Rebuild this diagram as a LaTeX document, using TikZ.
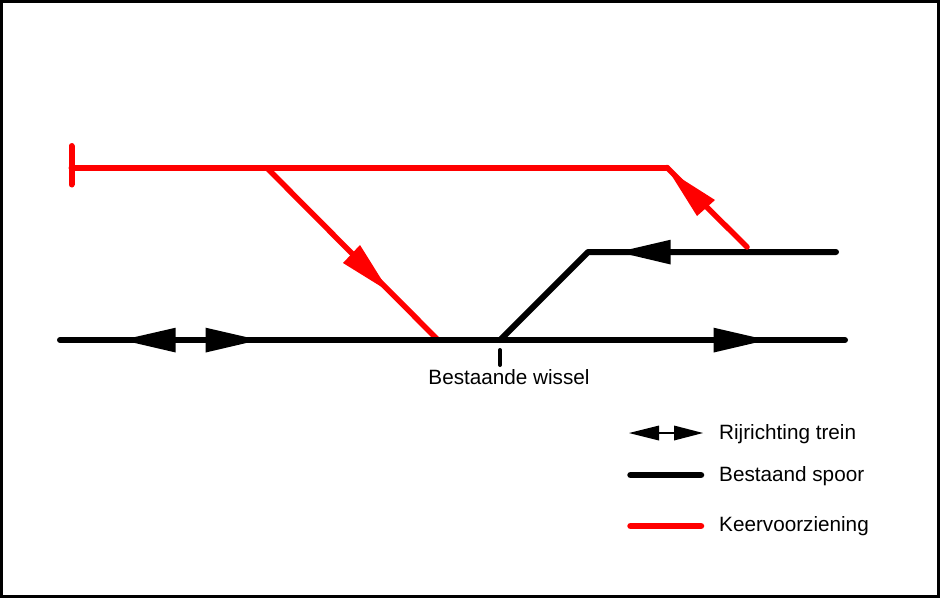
\documentclass[tikz,border=0pt]{standalone}
\usepackage{fontspec}
\setmainfont{Liberation Sans}
\definecolor{keer}{RGB}{255,0,0}
\tikzset{
  track/.style={line width=6pt,line cap=round,line join=round},
  spoor/.style={track,draw=black},
  keerspoor/.style={track,draw=keer},
  label/.style={inner sep=0pt,anchor=base west,font=\fontsize{20.7pt}{23pt}\selectfont},
  headblack/.style={fill=black},
  headred/.style={fill=keer}
}
\begin{document}
\begin{tikzpicture}[x=1pt,y=-1pt]
\useasboundingbox (0,0) rectangle (940,598);
\fill[white] (0,0) rectangle (940,598);
\draw[line width=3pt] (1.5,1.5) rectangle (938.5,596.5);
% coordinates
\coordinate (mainL) at (60,340);
\coordinate (mainR) at (845,340);
\coordinate (sw) at (500,340);
\coordinate (bend) at (588,252);
\coordinate (sideR) at (836,252);
\coordinate (stopT) at (71.5,146);
\coordinate (stopB) at (71.5,184.5);
\coordinate (stopM) at (71.5,167.5);
\coordinate (kneeR) at (667,167.5);
\coordinate (joinR) at (747,247);
\coordinate (forkT) at (268,169);
\coordinate (forkB) at (438,340);
\coordinate (tickT) at (500,350);
\coordinate (tickB) at (500,365);
% red track
\draw[keerspoor,line width=5.5pt,line cap=butt] (forkT) -- (forkB);
% black track
\draw[spoor] (mainL) -- (mainR);
\draw[spoor] (sw) -- (bend) -- (sideR);
\draw[line width=4pt,line cap=round] (tickT) -- (tickB);
% red track, upper part
\draw[keerspoor] (stopT) -- (stopB);
\draw[keerspoor] (stopM) -- (kneeR);
\draw[keerspoor,line width=5.5pt] (kneeR) -- (joinR);
% arrowheads
\fill[headblack] (122,340) -- (175.7,327.7) -- (175.7,352.5) -- cycle;
\fill[headblack] (259,340) -- (205.7,327.7) -- (205.7,352.5) -- cycle;
\fill[headblack] (618,252) -- (670.7,239.7) -- (670.7,264.5) -- cycle;
\fill[headblack] (767,340) -- (713.7,327.7) -- (713.7,352.5) -- cycle;
\fill[headred] (668.5,170.5) -- (715,200) -- (697,216) -- cycle;
\fill[headred] (389,291.5) -- (360,245) -- (343,263) -- cycle;
% label switch
\node[label,anchor=base] (wissel) at (509,384) {Bestaande wissel};
% legend
\coordinate (legL) at (659,433);
\coordinate (legR) at (674,433);
\draw[line width=2.5pt] (legL) -- (legR);
\fill[headblack] (629,433) -- (659,425.5) -- (659,440.5) -- cycle;
\fill[headblack] (703,433) -- (674,425.5) -- (674,440.5) -- cycle;
\coordinate (blackL) at (630.5,475);
\coordinate (blackR) at (701,475);
\draw[spoor,line width=6.5pt] (blackL) -- (blackR);
\coordinate (redL) at (630.5,526);
\coordinate (redR) at (701,526);
\draw[keerspoor,line width=6.5pt] (redL) -- (redR);
\node[label] (legA) at (719,439) {Rijrichting trein};
\node[label] (legB) at (719,481) {Bestaand spoor};
\node[label] (legC) at (719,531) {Keervoorziening};
\end{tikzpicture}
\end{document}
